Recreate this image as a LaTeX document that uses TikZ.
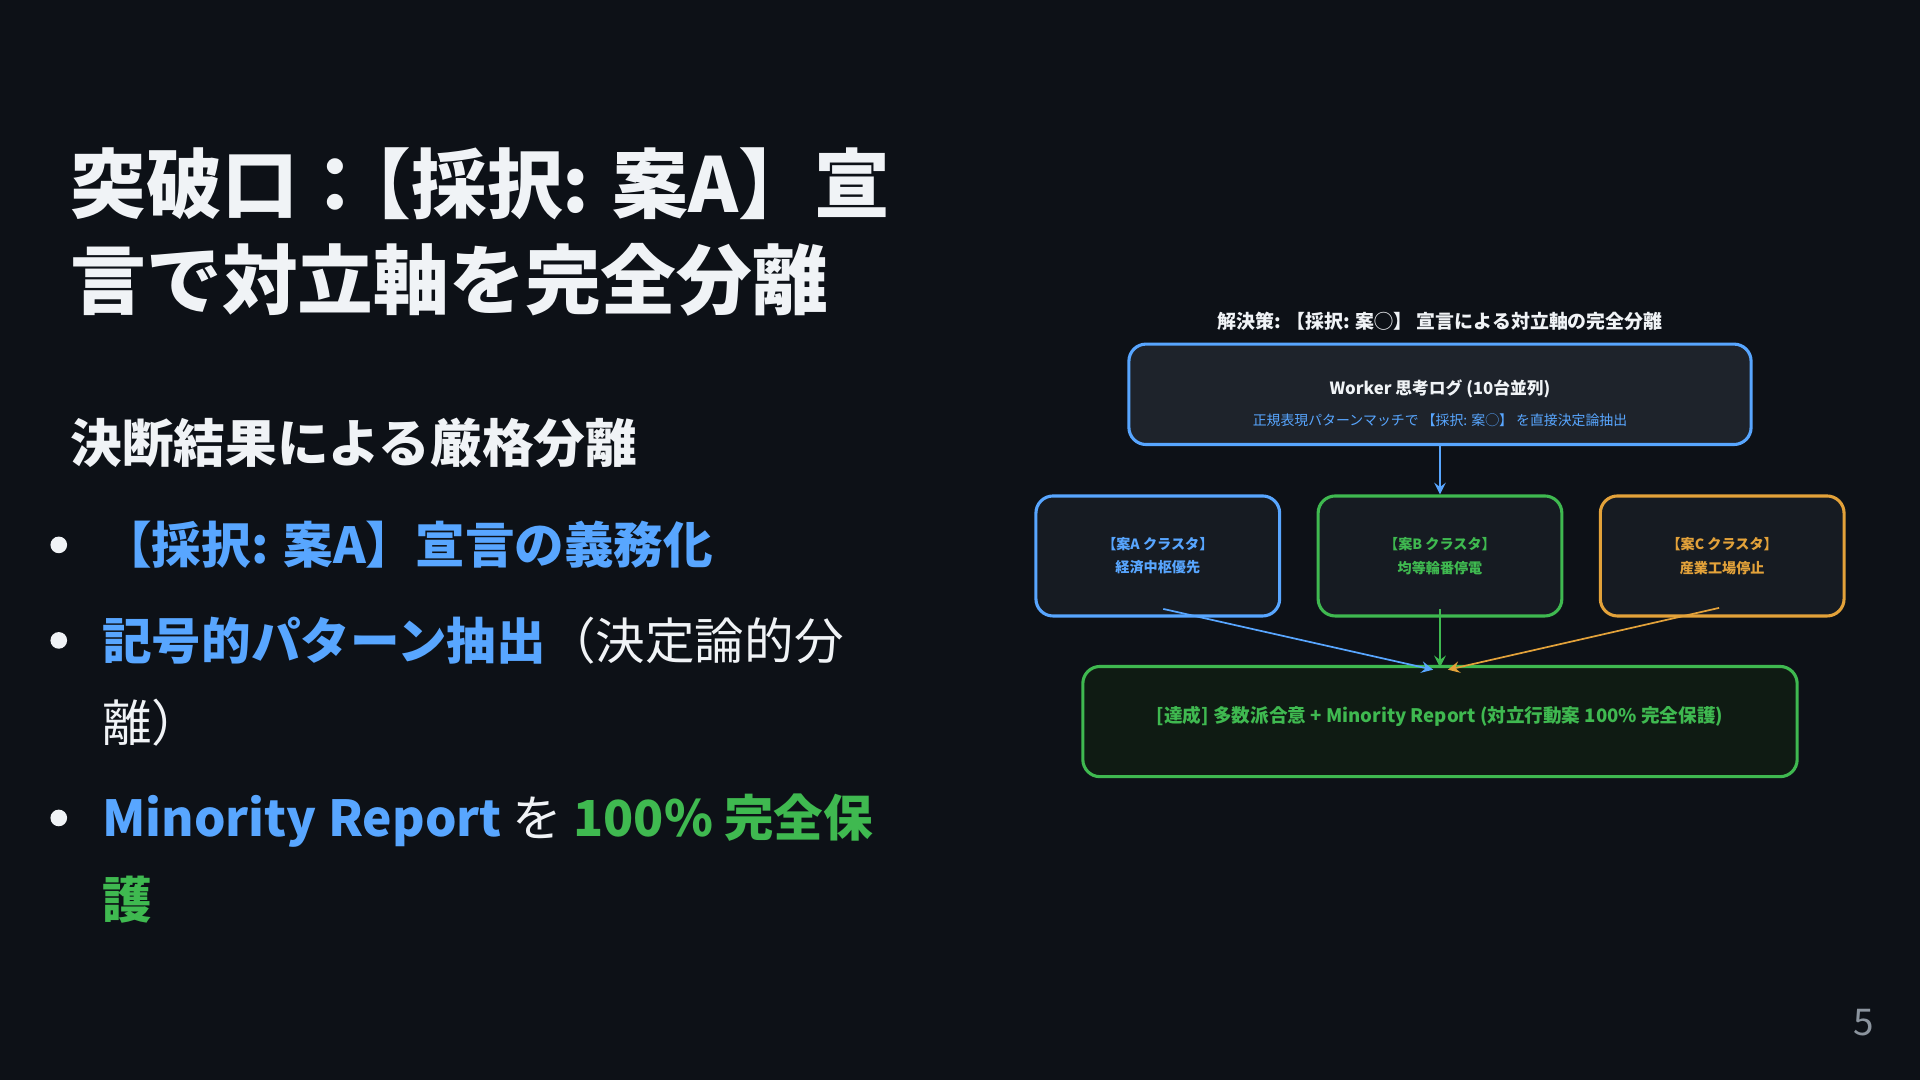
\documentclass[tikz,border=0pt]{standalone}
\usepackage{fontspec}
\setmainfont{Noto Sans CJK JP}
\usetikzlibrary{shapes,arrows,positioning}
\definecolor{bgcol}{HTML}{0D1117}
\definecolor{fgwhite}{HTML}{F0F3F6}
\definecolor{accblue}{HTML}{58A6FF}
\definecolor{accgreen}{HTML}{3FB950}
\definecolor{accorange}{HTML}{E3A23A}
\definecolor{logfill}{HTML}{1E232B}
\definecolor{boxfill}{HTML}{161B22}
\definecolor{resfill}{HTML}{0F1B13}
\definecolor{pagegray}{HTML}{8B949E}
\tikzset{headline/.style={anchor=base west,inner sep=0pt,text=fgwhite,font=\fontsize{22}{26}\selectfont\bfseries}}
\tikzset{subhead/.style={anchor=base west,inner sep=0pt,text=fgwhite,font=\fontsize{15}{18}\selectfont\bfseries}}
\tikzset{item/.style={anchor=base west,inner sep=0pt,text=fgwhite,font=\fontsize{14.4}{17}\selectfont}}
\tikzset{dot/.style={circle,fill=fgwhite,inner sep=0pt,minimum size=0.17cm}}
\tikzset{caption/.style={inner sep=0pt,text=fgwhite,font=\fontsize{5.5}{7}\selectfont\bfseries}}
\tikzset{basic/.style={draw,rounded corners=0.175cm,line width=0.9pt,align=center,inner sep=0pt}}
\tikzset{logbox/.style={basic,draw=accblue,fill=logfill,text=fgwhite,minimum width=6.35cm,minimum height=1.025cm,font=\fontsize{4.87}{8.9}\selectfont}}
\tikzset{cluster/.style={basic,fill=boxfill,minimum width=2.4875cm,minimum height=1.225cm,font=\fontsize{4.1}{6.8}\selectfont\bfseries}}
\tikzset{result/.style={basic,draw=accgreen,fill=resfill,text=accgreen,minimum width=7.29cm,minimum height=1.125cm,font=\fontsize{5.4}{7}\selectfont\bfseries}}
\tikzset{arrow/.style={draw,line width=0.5pt,->,>=stealth}}
\tikzset{pagenum/.style={inner sep=0pt,text=pagegray,font=\fontsize{10.7}{12}\selectfont}}

\begin{document}
\begin{tikzpicture}[x=0.0125cm,y=-0.0125cm]
    \fill[bgcol] (0,0) rectangle (1568,882);
    \useasboundingbox (0,0) rectangle (1568,882);

    % left column
    \node[headline] (t1) at (57,173.6) {突破口：\hspace{-0.5em}【採択: 案A】宣};
    \node[headline] (t2) at (57,251.6) {言で対立軸を完全分離};
    \node[subhead] (sub) at (57,378) {決断結果による厳格分離};

    \node[dot] (d1) at (48,445) {};
    \node[item] (b1) at (83,460.4) {\textcolor{accblue}{\bfseries 【採択: 案A】宣言の義務化}};
    \node[dot] (d2) at (48,523) {};
    \node[item] (b2a) at (83,538.4) {\textcolor{accblue}{\bfseries 記号的パターン抽出}（決定論的分};
    \node[item] (b2b) at (83,605.4) {離）};
    \node[dot] (d3) at (48,668) {};
    \node[item] (b3a) at (83,683.4) {\textcolor{accblue}{\bfseries Minority Report} を \textcolor{accgreen}{\bfseries 100\% 完全保}};
    \node[item] (b3b) at (83,750.4) {\textcolor{accgreen}{\bfseries 護}};

    % diagram
    \node[caption] (cap) at (1176,262) {解決策: 【採択: 案◯】 宣言による対立軸の完全分離};
    \node[logbox,below of=cap,node distance=0.75cm] (log) {\rule{0pt}{9.3pt}{\bfseries Worker 思考ログ (10台並列)}\\
        {\fontsize{4.03}{5}\selectfont\color{accblue}正規表現パターンマッチで 【採択: 案◯】 を直接決定論抽出}};

    \node[cluster,draw=accgreen,text=accgreen,below of=log,node distance=1.65cm] (clB) {【案B クラスタ】\\均等輪番停電};
    \node[cluster,draw=accblue,text=accblue,left of=clB,node distance=2.88cm] (clA) {【案A クラスタ】\\経済中枢優先};
    \node[cluster,draw=accorange,text=accorange,right of=clB,node distance=2.88cm] (clC) {【案C クラスタ】\\産業工場停止};

    \node[result,below of=clB,node distance=1.69cm] (res) {\rule[-4.2pt]{0pt}{0pt}[達成] 多数派合意 + Minority Report (対立行動案 100\% 完全保護)};

    \node[pagenum] (pg) at (1522,835) {5};

        \path[arrow,draw=accblue] (log) -- (clB);
        \path[arrow,draw=accblue] ([xshift=1.6pt,yshift=2.5pt]clA.south) -- ([xshift=-2pt,yshift=-1.4pt]res.north);
        \path[arrow,draw=accgreen] ([yshift=2.5pt]clB.south) -- ([yshift=-0.7pt]res.north);
        \path[arrow,draw=accorange] ([xshift=-0.9pt,yshift=2.8pt]clC.south) -- ([xshift=2.3pt,yshift=-1.4pt]res.north);
\end{tikzpicture}
\end{document}
